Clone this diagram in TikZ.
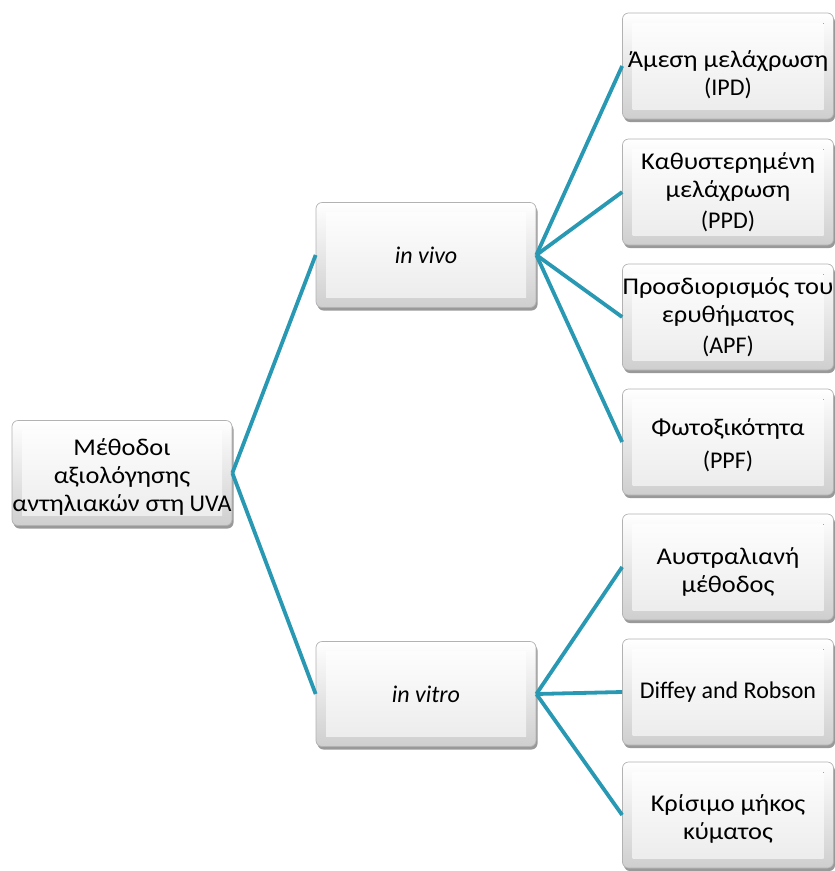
\documentclass[tikz,border=0pt]{standalone}
\usepackage{fontspec}
\setmainfont{Carlito}
\newfontfamily\grfont[FakeStretch=1.1]{Carlito}
\newcommand{\gr}[1]{{\grfont #1}}
\usetikzlibrary{shadows}
\definecolor{conncol}{HTML}{2898B3}
\tikzset{
  box/.style={rounded corners=6pt, draw=gray!60, line width=0.7pt,
    top color=white, bottom color=gray!38,
    drop shadow={shadow xshift=1.5pt, shadow yshift=-3pt, opacity=0.4, fill=black},
    align=center, inner sep=0pt,
    font=\fontsize{24}{28}\selectfont,
    path picture={\fill[sharp corners, top color=white, bottom color=gray!16]
      ([shift={(10pt,-10pt)}]path picture bounding box.north west) rectangle
      ([shift={(-10pt,10pt)}]path picture bounding box.south east);}},
  leftbox/.style={box, minimum width=220pt, minimum height=105pt},
  rightbox/.style={box, minimum width=211pt, minimum height=106pt},
  conn/.style={draw=conncol, line width=3.8pt}
}
\begin{document}
\begin{tikzpicture}[x=1pt,y=-1pt]
\useasboundingbox (0,0) rectangle (835,871);
\node[leftbox] (root) at (122,473) {\rule{0pt}{24pt}\gr{Μέθοδοι}\\\gr{αξιολόγησης}\\\gr{αντηλιακών στη} UVA};
\node[leftbox] (vivo) at (426,255) {\itshape in vivo};
\node[leftbox] (vitro) at (426,694) {\itshape in vitro};
\node[rightbox] (ipd) at (728,66) {\rule{0pt}{34pt}\gr{Άμεση μελάχρωση}\\(IPD)};
\node[rightbox] (ppd) at (728,192) {\gr{Καθυστερημένη}\\\gr{μελάχρωση}\\[3pt](PPD)};
\node[rightbox] (apf) at (728,317) {\gr{Προσδιορισμός του}\\\gr{ερυθήματος}\\[3pt](APF)};
\node[rightbox] (ppf) at (728,442) {\rule{0pt}{24pt}\gr{Φωτοξικότητα}\\[5pt](PPF)};
\node[rightbox] (aus) at (728,567) {\rule{0pt}{26pt}\gr{Αυστραλιανή}\\\gr{μέθοδος}};
\node[rightbox] (diffey) at (728,692) {Diffey and Robson};
\node[rightbox] (crit) at (728,815) {\rule{0pt}{24pt}\gr{Κρίσιμο μήκος}\\\gr{κύματος}};
\draw[conn] (root.east) -- (vivo.west);
\draw[conn] (root.east) -- (vitro.west);
\foreach \t in {ipd,ppd,apf,ppf} \draw[conn] (vivo.east) -- (\t.west);
\foreach \t in {aus,diffey,crit} \draw[conn] (vitro.east) -- (\t.west);
\end{tikzpicture}
\end{document}
